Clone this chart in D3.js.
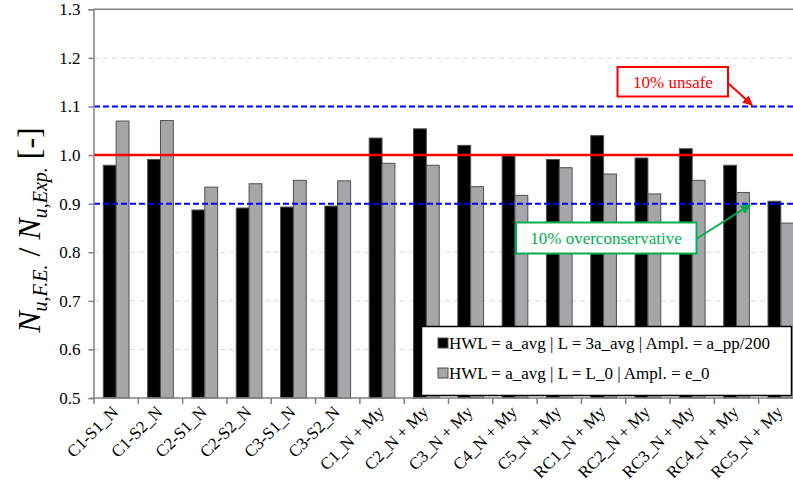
<!DOCTYPE html>
<html>
<head>
<meta charset="utf-8">
<script src="https://cdn.jsdelivr.net/npm/d3@7"></script>
<style>
  html, body { margin: 0; padding: 0; background: #fff; }
  svg { display: block; }
  text { font-family: "Liberation Serif", "Times New Roman", serif; }
</style>
</head>
<body>
<svg id="chart" width="793" height="486"></svg>
<script>
// ---- Data ----
const categories = ["C1-S1_N", "C1-S2_N", "C2-S1_N", "C2-S2_N", "C3-S1_N", "C3-S2_N",
  "C1_N + My", "C2_N + My", "C3_N + My", "C4_N + My", "C5_N + My",
  "RC1_N + My", "RC2_N + My", "RC3_N + My", "RC4_N + My", "RC5_N + My"];
const seriesNames = ["HWL = a_avg | L = 3a_avg | Ampl. = a_pp/200", "HWL = a_avg | L = L_0 | Ampl. = e_0"];
const seriesA = [0.979, 0.991, 0.887, 0.891, 0.893, 0.895, 1.035, 1.054, 1.020, 0.998, 0.991, 1.040, 0.994, 1.013, 0.979, 0.905];
const seriesB = [1.070, 1.071, 0.934, 0.941, 0.948, 0.947, 0.983, 0.979, 0.935, 0.917, 0.974, 0.961, 0.920, 0.948, 0.923, 0.860];
const yTicks = [0.5, 0.6, 0.7, 0.8, 0.9, 1.0, 1.1, 1.2, 1.3];
const refLine = 1.0;
const limitLines = [0.9, 1.1];
const annUnsafe = "10% unsafe";
const annOver = "10% overconservative";

// ---- Layout ----
const svg = d3.select("#chart");
const X0 = 94, X1 = 803, Y0 = 398, Y1 = 9.3;
const x = d3.scaleBand().domain(categories).range([X0, X1]).padding(0);
const bw = x.bandwidth();
const xs = d3.scaleBand().domain([0, 1]).range([0.21 * bw, 0.79 * bw]).padding(0);
const y = d3.scaleLinear().domain([0.5, 1.3]).range([Y0, Y1]);
const axisColor = "#808080";

// defs
const defs = svg.append("defs");
function marker(id, color) {
  defs.append("marker").attr("id", id).attr("viewBox", "0 0 10 10")
    .attr("refX", 9).attr("refY", 5).attr("markerWidth", 5).attr("markerHeight", 5)
    .attr("orient", "auto").attr("markerUnits", "strokeWidth")
    .append("path").attr("d", "M0,0 L10,5 L0,10 z").attr("fill", color);
}
marker("arrRed", "#ff0000");
marker("arrGreen", "#00b050");

// gridlines
svg.append("g").selectAll("line").data(yTicks.filter(t => t > 0.5 && t < 1.3)).join("line")
  .attr("x1", X0).attr("x2", 793).attr("y1", d => y(d)).attr("y2", d => y(d))
  .attr("stroke", "#d9d9d9").attr("stroke-width", 1).attr("stroke-dasharray", "5,4");

// bars
const data = categories.map((c, i) => ({ c, v: [seriesA[i], seriesB[i]] }));
const fills = ["#000000", "#a6a6a8"];
const g = svg.append("g");
data.forEach(d => {
  d.v.forEach((v, k) => {
    g.append("rect")
      .attr("x", x(d.c) + xs(k)).attr("width", xs.bandwidth())
      .attr("y", y(v)).attr("height", Y0 - y(v))
      .attr("fill", fills[k]).attr("stroke", "#505050").attr("stroke-width", 1);
  });
});

// reference lines
svg.append("line").attr("x1", X0).attr("x2", 793).attr("y1", y(refLine)).attr("y2", y(refLine))
  .attr("stroke", "#ff0000").attr("stroke-width", 2.5);
svg.append("g").selectAll("line").data(limitLines).join("line")
  .attr("x1", X0).attr("x2", 793).attr("y1", d => y(d)).attr("y2", d => y(d))
  .attr("stroke", "#0000ff").attr("stroke-width", 2).attr("stroke-dasharray", "6,3");

// axes
const yAxis = d3.axisLeft(y).tickValues(yTicks).tickFormat(d3.format(".1f")).tickSize(5).tickPadding(8);
const gy = svg.append("g").attr("transform", `translate(${X0 - 0.5},0)`).call(yAxis);
gy.select(".domain").attr("stroke", axisColor).attr("stroke-width", 1.5);
gy.selectAll(".tick line").attr("stroke", axisColor).attr("stroke-width", 1.5);
gy.selectAll(".tick text").attr("font-size", 17).attr("fill", "#000")
  .attr("font-family", "Liberation Serif");

// top border
svg.append("line").attr("x1", X0 - 0.5).attr("x2", 793).attr("y1", Y1).attr("y2", Y1)
  .attr("stroke", axisColor).attr("stroke-width", 1.5);

// x axis
svg.append("line").attr("x1", X0 - 0.5).attr("x2", 793).attr("y1", Y0).attr("y2", Y0)
  .attr("stroke", axisColor).attr("stroke-width", 1.5);
const bounds = categories.map(c => x(c)).concat([X1]);
svg.append("g").selectAll("line").data(bounds).join("line")
  .attr("x1", d => d).attr("x2", d => d).attr("y1", Y0).attr("y2", Y0 + 6)
  .attr("stroke", axisColor).attr("stroke-width", 1.5);
svg.append("g").selectAll("text").data(categories).join("text")
  .attr("transform", d => `translate(${x(d) + bw / 2 + 3},${Y0 + 15}) rotate(-45)`)
  .attr("text-anchor", "end").attr("font-size", 17).attr("fill", "#000")
  .text(d => d);

// y label
const yl = svg.append("text").attr("transform", "translate(40,230) rotate(-90)")
  .attr("text-anchor", "middle").attr("font-size", 32).attr("fill", "#000");
yl.append("tspan").attr("font-style", "italic").text("N");
yl.append("tspan").attr("font-style", "italic").attr("font-size", 20).attr("dy", 7).text("u,F.E.");
yl.append("tspan").attr("dy", -7).text(" / ");
yl.append("tspan").attr("font-style", "italic").text("N");
yl.append("tspan").attr("font-style", "italic").attr("font-size", 20).attr("dy", 7).text("u,Exp.");
yl.append("tspan").attr("dy", -7).text(" [-]");

// legend
const lg = svg.append("g");
lg.append("rect").attr("x", 421.5).attr("y", 326.5).attr("width", 370).attr("height", 69)
  .attr("fill", "#fff").attr("stroke", "#000").attr("stroke-width", 1.5);
seriesNames.forEach((s, k) => {
  const cy = 343 + k * 30;
  lg.append("rect").attr("x", 438).attr("y", cy - 5).attr("width", 10).attr("height", 10)
    .attr("fill", fills[k]).attr("stroke", "#505050").attr("stroke-width", 1);
  lg.append("text").attr("x", 449).attr("y", cy).attr("dy", "0.35em")
    .attr("font-size", 17).attr("fill", "#000").text(s);
});

// annotations
svg.append("line").attr("x1", 728).attr("y1", 83).attr("x2", 752).attr("y2", 105)
  .attr("stroke", "#ff0000").attr("stroke-width", 2).attr("marker-end", "url(#arrRed)");
svg.append("rect").attr("x", 617.5).attr("y", 67).attr("width", 110.5).attr("height", 29.5)
  .attr("fill", "#fff").attr("stroke", "#ff0000").attr("stroke-width", 2);
svg.append("text").attr("x", 673).attr("y", 82).attr("dy", "0.35em").attr("text-anchor", "middle")
  .attr("font-size", 17).attr("fill", "#ff0000").text(annUnsafe);

svg.append("line").attr("x1", 696).attr("y1", 239).attr("x2", 750).attr("y2", 205)
  .attr("stroke", "#00b050").attr("stroke-width", 2).attr("marker-end", "url(#arrGreen)");
svg.append("rect").attr("x", 516).attr("y", 222.5).attr("width", 180.5).attr("height", 31)
  .attr("fill", "#fff").attr("stroke", "#00b050").attr("stroke-width", 2);
svg.append("text").attr("x", 606).attr("y", 238).attr("dy", "0.35em").attr("text-anchor", "middle")
  .attr("font-size", 17).attr("fill", "#00b050").text(annOver);
</script>
</body>
</html>
